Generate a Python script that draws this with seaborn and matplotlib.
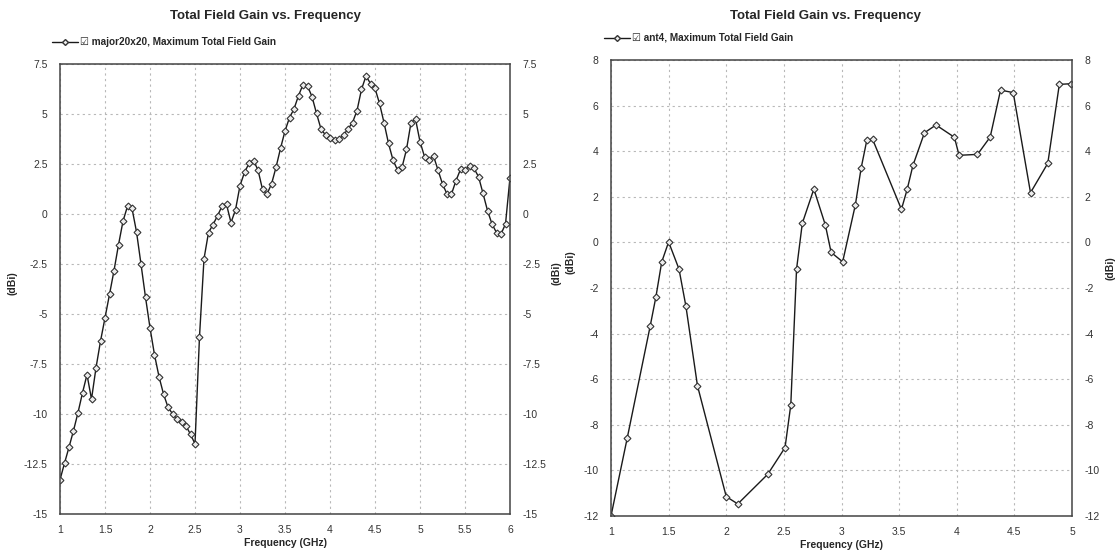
import seaborn as sns
import pandas as pd
import matplotlib
matplotlib.use("Agg")
import matplotlib.pyplot as plt
from matplotlib.lines import Line2D

# Left chart: major20x20 sweep, 1-6 GHz
freq_a = [1.0, 1.05, 1.1, 1.15, 1.2, 1.25, 1.3, 1.35, 1.4, 1.45,
          1.5, 1.55, 1.6, 1.65, 1.7, 1.75, 1.8, 1.85, 1.9, 1.95,
          2.0, 2.05, 2.1, 2.15, 2.2, 2.25, 2.3, 2.35, 2.4, 2.45,
          2.5, 2.55, 2.6, 2.65, 2.7, 2.75, 2.8, 2.85, 2.9, 2.95,
          3.0, 3.05, 3.1, 3.15, 3.2, 3.25, 3.3, 3.35, 3.4, 3.45,
          3.5, 3.55, 3.6, 3.65, 3.7, 3.75, 3.8, 3.85, 3.9, 3.95,
          4.0, 4.05, 4.1, 4.15, 4.2, 4.25, 4.3, 4.35, 4.4, 4.45,
          4.5, 4.55, 4.6, 4.65, 4.7, 4.75, 4.8, 4.85, 4.9, 4.95,
          5.0, 5.05, 5.1, 5.15, 5.2, 5.25, 5.3, 5.35, 5.4, 5.45,
          5.5, 5.55, 5.6, 5.65, 5.7, 5.75, 5.8, 5.85, 5.9, 5.95, 6.0]
gain_a = [-13.29, -12.46, -11.66, -10.83, -9.93, -8.94, -8.03, -9.26, -7.69, -6.36,
          -5.19, -4.02, -2.83, -1.54, -0.36, 0.39, 0.28, -0.89, -2.51, -4.16,
          -5.69, -7.04, -8.13, -9.0, -9.66, -9.99, -10.26, -10.39, -10.59, -11.02,
          -11.49, -6.13, -2.24, -0.93, -0.53, -0.09, 0.39, 0.48, -0.43, 0.21,
          1.42, 2.08, 2.53, 2.67, 2.2, 1.23, 1.0, 1.5, 2.33, 3.28,
          4.15, 4.82, 5.25, 5.92, 6.47, 6.4, 5.87, 5.03, 4.25, 3.95,
          3.78, 3.7, 3.75, 3.95, 4.25, 4.57, 5.17, 6.23, 6.9, 6.52,
          6.28, 5.53, 4.57, 3.53, 2.7, 2.2, 2.33, 3.23, 4.57, 4.75,
          3.62, 2.87, 2.7, 2.9, 2.2, 1.5, 1.0, 1.0, 1.67, 2.23,
          2.2, 2.4, 2.28, 1.87, 1.03, 0.17, -0.5, -0.93, -1.0, -0.5, 1.82]

# Right chart: ant4, 1-5 GHz
freq_b = [1.0, 1.14, 1.34, 1.39, 1.44, 1.5, 1.59, 1.65, 1.75, 2.0,
          2.1, 2.36, 2.51, 2.56, 2.61, 2.66, 2.76, 2.86, 2.91, 3.01,
          3.12, 3.17, 3.22, 3.27, 3.52, 3.57, 3.62, 3.72, 3.82, 3.98,
          4.02, 4.18, 4.29, 4.38, 4.49, 4.64, 4.79, 4.89, 4.99]
gain_b = [-12.0, -8.6, -3.67, -2.38, -0.86, 0.02, -1.17, -2.8, -6.28, -11.15,
          -11.47, -10.17, -9.0, -7.13, -1.17, 0.84, 2.34, 0.76, -0.44, -0.85,
          1.64, 3.25, 4.49, 4.52, 1.45, 2.33, 3.38, 4.81, 5.15, 4.61,
          3.82, 3.86, 4.62, 6.68, 6.57, 2.18, 3.47, 6.93, 6.96]

title = "Total Field Gain vs. Frequency"
legend_a = "\u2611 major20x20, Maximum Total Field Gain"
legend_b = "\u2611 ant4, Maximum Total Field Gain"
xticks_a = [1, 1.5, 2, 2.5, 3, 3.5, 4, 4.5, 5, 5.5, 6]
yticks_a = [-15, -12.5, -10, -7.5, -5, -2.5, 0, 2.5, 5, 7.5]
xticks_b = [1, 1.5, 2, 2.5, 3, 3.5, 4, 4.5, 5]
yticks_b = [-12, -10, -8, -6, -4, -2, 0, 2, 4, 6, 8]

sns.set_style("white")
plt.rcParams["font.family"] = ["Liberation Sans", "DejaVu Sans"]

W, H = 1115, 553
fig = plt.figure(figsize=(W / 100, H / 100), dpi=100)


def fmt(v):
    return f"{v:g}"


def panel(rect, freq, gain, xticks, yticks, xlim, ylim, label, title_x, legend_x, legend_y):
    x0, y0, x1, y1 = rect
    ax = fig.add_axes([x0 / W, 1 - y1 / H, (x1 - x0) / W, (y1 - y0) / H])
    df = pd.DataFrame({"Frequency": freq, "Gain": gain})
    sns.lineplot(data=df, x="Frequency", y="Gain", ax=ax, color="#1a1a1a", linewidth=1.0,
                 marker="D", markersize=3.5, markerfacecolor="#ededed",
                 markeredgecolor="#333333", markeredgewidth=0.8, sort=False)
    ax.set_xlim(*xlim)
    ax.set_ylim(*ylim)
    ax.set_xticks(xticks)
    ax.set_xticklabels([fmt(v) for v in xticks])
    ax.set_yticks(yticks)
    ax.set_yticklabels([fmt(v) for v in yticks])
    ax.tick_params(axis="both", length=0, labelsize=7.5, labelcolor="#333333", pad=8)
    ax.tick_params(axis="y", labelright=True, pad=9)
    ax.grid(True, linestyle=(0, (2, 3)), color="#b8b8b8", linewidth=0.8)
    for s in ax.spines.values():
        s.set_color("#444444")
        s.set_linewidth(1.1)
    ax.set_xlabel("Frequency (GHz)", fontsize=7.5, fontweight="bold", labelpad=2)
    ax.set_ylabel("")
    fig.text(title_x / W, 1 - 16 / H, title, ha="center", va="center",
             fontsize=9.5, fontweight="bold")
    handle = Line2D([], [], color="#1a1a1a", linewidth=1.0, marker="D", markersize=3,
                    markerfacecolor="#ededed", markeredgecolor="#333333")
    fig.legend([handle], [label], loc="center left",
               bbox_to_anchor=(legend_x / W, 1 - legend_y / H), frameon=False,
               prop={"weight": "bold", "size": 7.2},
               handlelength=2.6, handletextpad=0.2, borderpad=0, borderaxespad=0)
    return ax


panel((60, 64, 510, 514), freq_a, gain_a, xticks_a, yticks_a, (1, 6), (-15, 7.5),
      legend_a, 265, 52, 42)
panel((611, 60, 1072, 516), freq_b, gain_b, xticks_b, yticks_b, (1, 5), (-12, 8),
      legend_b, 825, 604, 38)

# (dBi) axis labels on both sides of each chart
for xpos, ypos in [(12, 283), (557, 273), (571, 262), (1110, 268)]:
    fig.text(xpos / W, 1 - ypos / H, "(dBi)", rotation=90, ha="center", va="center",
             fontsize=7.5, fontweight="bold")

fig.savefig("out.png", dpi=100)
